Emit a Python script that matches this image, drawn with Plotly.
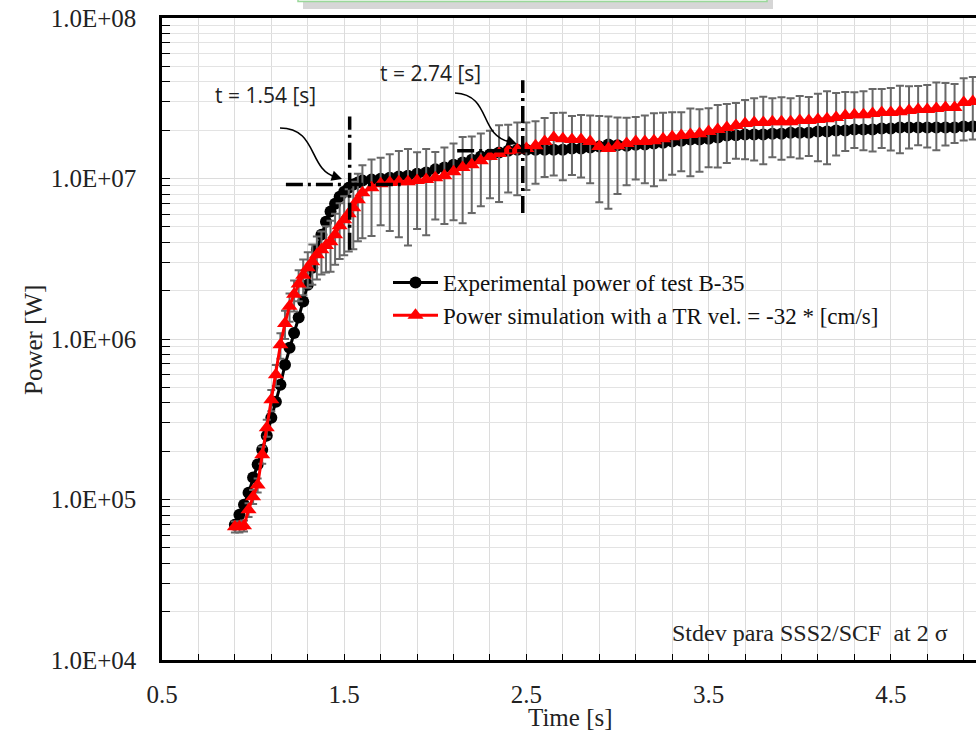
import plotly.graph_objects as go

# ---------------- data ----------------
time_s = [0.900, 0.925, 0.950, 0.975, 1.000, 1.025, 1.050, 1.075, 1.100, 1.125,
          1.150, 1.175, 1.200, 1.225, 1.250, 1.275, 1.300, 1.325, 1.350, 1.375,
          1.400, 1.425, 1.450, 1.475, 1.500, 1.525, 1.550, 1.575, 1.600,
          1.65, 1.70, 1.75, 1.80, 1.85, 1.90, 1.95, 2.00, 2.05, 2.10,
          2.15, 2.20, 2.25, 2.30, 2.35, 2.40, 2.45, 2.50, 2.55, 2.60,
          2.65, 2.70, 2.75, 2.80, 2.85, 2.90, 2.95, 3.00, 3.05, 3.10,
          3.15, 3.20, 3.25, 3.30, 3.35, 3.40, 3.45, 3.50, 3.55, 3.60,
          3.65, 3.70, 3.75, 3.80, 3.85, 3.90, 3.95, 4.00, 4.05, 4.10,
          4.15, 4.20, 4.25, 4.30, 4.35, 4.40, 4.45, 4.50, 4.55, 4.60,
          4.65, 4.70, 4.75, 4.80, 4.85, 4.90, 4.95]

exp_power = [6.96e4, 8.03e4, 9.27e4, 1.10e5, 1.37e5, 1.65e5, 2.04e5, 2.50e5, 3.23e5, 4.06e5,
             5.19e5, 6.91e5, 8.83e5, 1.09e6, 1.36e6, 1.71e6, 2.18e6, 2.78e6, 3.60e6, 4.47e6,
             5.38e6, 6.22e6, 6.97e6, 7.71e6, 8.28e6, 8.77e6, 9.16e6, 9.43e6, 9.70e6,
             9.84e6, 9.98e6, 1.01e7, 1.03e7, 1.04e7, 1.07e7, 1.09e7, 1.14e7, 1.17e7, 1.22e7,
             1.26e7, 1.31e7, 1.37e7, 1.41e7, 1.45e7, 1.49e7, 1.51e7, 1.51e7, 1.51e7, 1.51e7,
             1.51e7, 1.51e7, 1.54e7, 1.54e7, 1.56e7, 1.58e7, 1.63e7, 1.61e7, 1.60e7, 1.62e7,
             1.63e7, 1.65e7, 1.67e7, 1.70e7, 1.72e7, 1.75e7, 1.75e7, 1.77e7, 1.80e7, 1.85e7,
             1.86e7, 1.88e7, 1.88e7, 1.88e7, 1.90e7, 1.90e7, 1.93e7, 1.93e7, 1.93e7, 1.96e7,
             1.96e7, 1.99e7, 1.99e7, 2.02e7, 2.02e7, 2.02e7, 2.05e7, 2.05e7, 2.08e7, 2.08e7,
             2.08e7, 2.08e7, 2.08e7, 2.08e7, 2.08e7, 2.11e7, 2.11e7]

sim_power = [6.76e4, 6.76e4, 6.86e4, 8.63e4, 1.04e5, 1.23e5, 1.90e5, 2.80e5, 4.18e5, 5.99e5,
             9.20e5, 1.25e6, 1.60e6, 1.90e6, 2.20e6, 2.50e6, 2.78e6, 3.03e6, 3.35e6, 3.60e6,
             3.82e6, 4.04e6, 4.47e6, 5.08e6, 5.54e6, 6.04e6, 6.58e6, 7.38e6, 8.16e6,
             8.77e6, 9.29e6, 9.43e6, 9.56e6, 9.56e6, 9.70e6, 9.84e6, 1.01e7, 1.04e7, 1.10e7,
             1.17e7, 1.22e7, 1.29e7, 1.37e7, 1.43e7, 1.49e7, 1.51e7, 1.54e7, 1.60e7, 1.70e7,
             1.80e7, 1.77e7, 1.75e7, 1.75e7, 1.70e7, 1.58e7, 1.54e7, 1.60e7, 1.65e7, 1.70e7,
             1.70e7, 1.72e7, 1.77e7, 1.82e7, 1.85e7, 1.88e7, 1.90e7, 1.96e7, 2.02e7, 2.08e7,
             2.14e7, 2.20e7, 2.23e7, 2.23e7, 2.26e7, 2.26e7, 2.26e7, 2.30e7, 2.30e7, 2.33e7,
             2.36e7, 2.40e7, 2.47e7, 2.50e7, 2.50e7, 2.54e7, 2.58e7, 2.58e7, 2.61e7, 2.65e7,
             2.69e7, 2.69e7, 2.73e7, 2.77e7, 2.77e7, 2.97e7, 3.02e7]

# relative 2-sigma spread of the simulation
sim_err_frac = [0.08, 0.08, 0.08, 0.10, 0.10, 0.10, 0.12, 0.12, 0.15,
                0.15, 0.18, 0.20, 0.20, 0.22, 0.22, 0.25, 0.25,
                0.28, 0.30, 0.30, 0.32, 0.35, 0.35, 0.38, 0.40, 0.42, 0.45, 0.45, 0.48,
                0.50, 0.45, 0.50, 0.55, 0.60, 0.50, 0.55, 0.45, 0.50, 0.50, 0.55, 0.50,
                0.48, 0.45, 0.50, 0.45, 0.48,
                0.45, 0.42, 0.40, 0.42, 0.45, 0.40, 0.42, 0.45, 0.55, 0.58,
                0.50, 0.45, 0.42, 0.45, 0.48, 0.45, 0.42, 0.40, 0.45, 0.42,
                0.40, 0.42, 0.40, 0.38, 0.40, 0.42, 0.45, 0.40, 0.42, 0.40,
                0.42, 0.40, 0.45, 0.48, 0.42, 0.40, 0.38, 0.40, 0.42, 0.40,
                0.42, 0.45, 0.42, 0.40, 0.42, 0.45, 0.42, 0.40, 0.42, 0.42]

# guide lines (dash-dot) drawn on the chart
guide_v1_t, guide_v1_p = [1.53, 1.53], [3.6e6, 2.43e7]
guide_v2_t, guide_v2_p = [2.48, 2.48], [6.1e6, 4.1e7]
guide_h1_t, guide_h1_p = [1.18, 1.81], [9.16e6, 9.16e6]
guide_h2_t, guide_h2_p = [2.12, 2.52], [1.49e7, 1.49e7]

y_tickvals = [1e4, 1e5, 1e6, 1e7, 1e8]
y_ticktext = ["1.0E+04", "1.0E+05", "1.0E+06", "1.0E+07", "1.0E+08"]
x_tickvals = [0.5, 1.5, 2.5, 3.5, 4.5]
x_ticktext = ["0.5", "1.5", "2.5", "3.5", "4.5"]

sim_err = [p * f for p, f in zip(sim_power, sim_err_frac)]

# ---------------- geometry helpers ----------------
W, H = 976, 732
L, R, T, B = 162, 0, 18, 72
PW, PH = W - L - R, H - T - B


def paper(px, py):
    return (px - L) / PW, (H - B - py) / PH


SERIF = "Liberation Serif, Times New Roman, serif"
SANS = "Open Sans, Liberation Sans, sans-serif"

fig = go.Figure()

fig.add_trace(go.Scatter(
    x=time_s, y=exp_power, mode="lines+markers",
    name="Experimental power of test B-35",
    line=dict(color="black", width=3),
    marker=dict(symbol="circle", size=12, color="black"),
))

fig.add_trace(go.Scatter(
    x=time_s, y=sim_power, mode="lines+markers",
    name="Power simulation with a TR vel. = -32 * [cm/s]",
    line=dict(color="#ff0000", width=3),
    marker=dict(symbol="triangle-up", size=14, color="#ff0000"),
    error_y=dict(type="data", array=sim_err, visible=True,
                 color="#686868", thickness=2, width=4),
))

for gt, gp in [(guide_v1_t, guide_v1_p), (guide_v2_t, guide_v2_p),
               (guide_h1_t, guide_h1_p), (guide_h2_t, guide_h2_p)]:
    fig.add_trace(go.Scatter(
        x=gt, y=gp, mode="lines", showlegend=False, hoverinfo="skip",
        line=dict(color="black", width=3.5, dash="17px,5px,3px,5px"),
    ))

shapes = []
# green framed title box cut by the top edge, with its shadow
sx0, sy0 = paper(303, 9)
sx1, sy1 = paper(773, -2)
shapes.append(dict(type="rect", xref="paper", yref="paper", x0=sx0, y0=sy0, x1=sx1, y1=sy1,
                   fillcolor="rgba(0,0,0,0.16)", line=dict(width=0), layer="above"))
bx0, by0 = paper(298, 1.5)
bx1, by1 = paper(767, -12)
shapes.append(dict(type="rect", xref="paper", yref="paper", x0=bx0, y0=by0, x1=bx1, y1=by1,
                   fillcolor="#f3fbf3", line=dict(color="#9ad89a", width=1.5), layer="above"))


def curve(points):
    (a, b), (c, d), (e, f), (g, h) = [paper(*p) for p in points]
    return f"M {a},{b} C {c},{d} {e},{f} {g},{h}"


shapes.append(dict(type="path", xref="paper", yref="paper",
                   path=curve([(280, 128), (318, 128), (308, 170), (336, 177)]),
                   line=dict(color="black", width=1.6)))
shapes.append(dict(type="path", xref="paper", yref="paper",
                   path=curve([(455, 93), (492, 95), (478, 135), (510, 142)]),
                   line=dict(color="black", width=1.6)))

annotations = []
for (tx, ty), txt in [((265, 95), "t = 1.54 [s]"), ((430, 73), "t = 2.74 [s]")]:
    ax_, ay_ = paper(tx, ty)
    annotations.append(dict(xref="paper", yref="paper", x=ax_, y=ay_, text=txt,
                            xanchor="center", yanchor="middle", showarrow=False,
                            font=dict(family=SANS, size=21, color="#222")))

for (hx, hy), (dx, dy) in [((342, 179), (-12, -4)), ((517, 144), (-12, -4))]:
    ax_, ay_ = paper(hx, hy)
    annotations.append(dict(xref="paper", yref="paper", x=ax_, y=ay_, text="",
                            showarrow=True, ax=dx, ay=dy, arrowhead=2, arrowsize=1.3,
                            arrowwidth=1.6, arrowcolor="black"))

sx, sy = paper(670, 633)
annotations.append(dict(xref="paper", yref="paper", x=sx, y=sy, xanchor="left",
                        yanchor="middle", text="Stdev para SSS2/SCF  at 2 σ",
                        showarrow=False, font=dict(family=SERIF, size=24, color="#222")))

px_, py_ = paper(34, 340)
annotations.append(dict(xref="paper", yref="paper", x=px_, y=py_, text="Power [W]",
                        xanchor="center", yanchor="middle", textangle=-90,
                        showarrow=False, font=dict(family=SERIF, size=25, color="#222")))
tx_, ty_ = paper(570, 718)
annotations.append(dict(xref="paper", yref="paper", x=tx_, y=ty_, text="Time [s]",
                        xanchor="center", yanchor="middle", showarrow=False,
                        font=dict(family=SERIF, size=25, color="#222")))

lx, ly = paper(388, 261)

fig.update_layout(
    width=W, height=H,
    margin=dict(l=L, r=R, t=T, b=B, pad=0),
    paper_bgcolor="white", plot_bgcolor="white",
    showlegend=True,
    legend=dict(x=lx, y=ly, xanchor="left", yanchor="top", bgcolor="rgba(0,0,0,0)",
                font=dict(family=SERIF, size=23, color="#111"), itemwidth=45,
                tracegroupgap=0),
    shapes=shapes, annotations=annotations,
    xaxis=dict(range=[0.5, 0.5 + PW / 182.2], tickvals=x_tickvals, ticktext=x_ticktext,
               ticks="inside", ticklen=6, tickwidth=1.2, tickcolor="black",
               showgrid=True, gridcolor="#dcdcdc", gridwidth=1,
               minor=dict(tick0=0.5, dtick=0.2, ticks="inside", ticklen=6, tickcolor="black",
                          showgrid=True, gridcolor="#dcdcdc", gridwidth=1),
               showline=True, linecolor="black", linewidth=2.5, mirror=True,
               zeroline=False, ticklabelstandoff=10,
               tickfont=dict(family=SERIF, size=25, color="#222")),
    yaxis=dict(type="log", range=[4, 8], tickvals=y_tickvals, ticktext=y_ticktext,
               ticks="inside", ticklen=8, tickwidth=1.2, tickcolor="black",
               showgrid=True, gridcolor="#dcdcdc", gridwidth=1,
               minor=dict(dtick="D1", ticks="inside", ticklen=8, tickcolor="black",
                          showgrid=True, gridcolor="#e3e3e3", gridwidth=1),
               showline=True, linecolor="black", linewidth=2.5,
               zeroline=False, ticklabelstandoff=18,
               tickfont=dict(family=SERIF, size=25, color="#222")),
)

fig.write_html("out.html")
